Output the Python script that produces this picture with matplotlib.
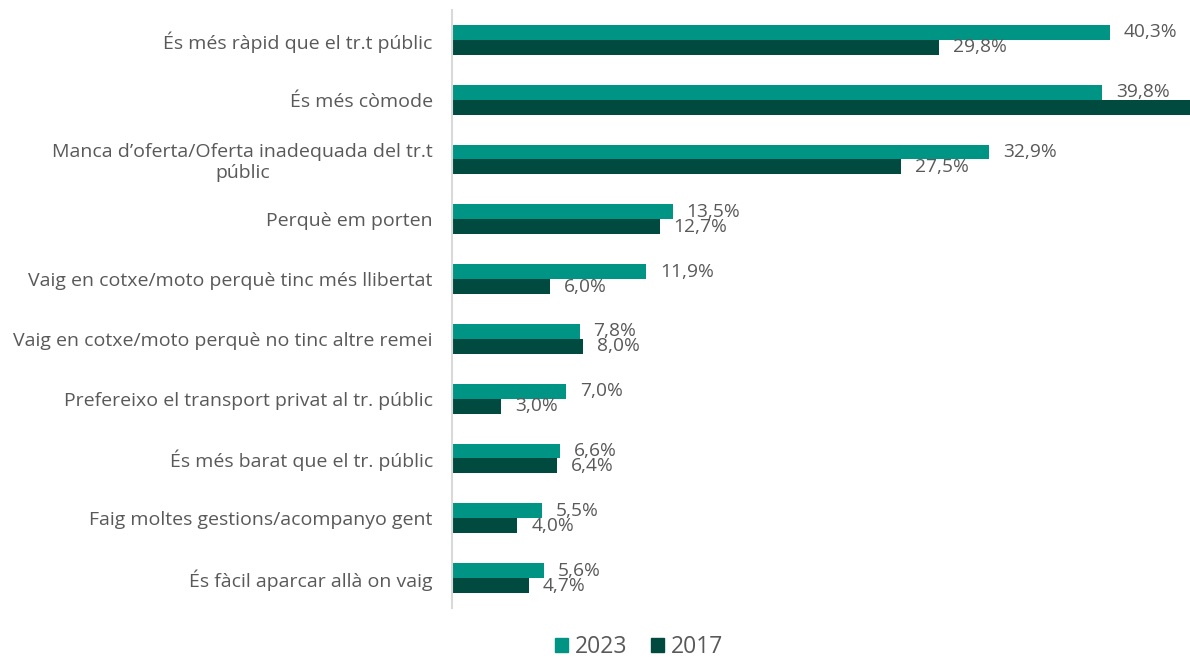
import numpy as np
import matplotlib
matplotlib.use("Agg")
import matplotlib.pyplot as plt
from matplotlib.patches import Patch

categories = [
    "És més ràpid que el tr.t públic",
    "És més còmode",
    "Manca d’oferta/Oferta inadequada del tr.t\npúblic",
    "Perquè em porten",
    "Vaig en cotxe/moto perquè tinc més llibertat",
    "Vaig en cotxe/moto perquè no tinc altre remei",
    "Prefereixo el transport privat al tr. públic",
    "És més barat que el tr. públic",
    "Faig moltes gestions/acompanyo gent",
    "És fàcil aparcar allà on vaig",
]
vals_2023 = [40.3, 39.8, 32.9, 13.5, 11.9, 7.8, 7.0, 6.6, 5.5, 5.6]
vals_2017 = [29.8, 46.5, 27.5, 12.7, 6.0, 8.0, 3.0, 6.4, 4.0, 4.7]

c2023 = "#009485"
c2017 = "#004a40"
grey = "#595959"

plt.rcParams['font.family'] = ['Open Sans', 'DejaVu Sans']

fig = plt.figure(figsize=(11.9, 6.57), dpi=100)
ax = fig.add_axes([0.38, 0.0746, 0.62, 0.9102])

y = np.arange(len(categories))
h = 0.25
b1 = ax.barh(y - h / 2, vals_2023, height=h, color=c2023, label="2023")
b2 = ax.barh(y + h / 2, vals_2017, height=h, color=c2017, label="2017")

for bars, vals in [(b1, vals_2023), (b2, vals_2017)]:
    for bar, v in zip(bars, vals):
        ax.annotate(f"{v:.1f}%".replace(".", ","),
                    (v, bar.get_y() + bar.get_height() / 2),
                    xytext=(10, 0), textcoords="offset points",
                    va="center", ha="left", fontsize=13.8, color=grey)

ax.set_xlim(0, 45.2)
ax.set_ylim(len(categories) - 0.5, -0.5)
ax.set_yticks(y)
ax.set_yticklabels(categories, fontsize=14, color=grey, multialignment="center")
ax.tick_params(axis="y", length=0, pad=14)
ax.set_xticks([])
for s in ["top", "right", "bottom"]:
    ax.spines[s].set_visible(False)
ax.spines["left"].set_color("#d9d9d9")
ax.spines["left"].set_linewidth(1.5)

handles = [Patch(color=c2023, label="2023"), Patch(color=c2017, label="2017")]
leg = fig.legend(handles=handles, loc="center", bbox_to_anchor=(0.537, 0.015),
                 ncol=2, frameon=False, fontsize=16.5, handlelength=0.6,
                 handleheight=0.6, handletextpad=0.3, columnspacing=1.0)
for t in leg.get_texts():
    t.set_color(grey)

fig.savefig("out.png", dpi=100)
